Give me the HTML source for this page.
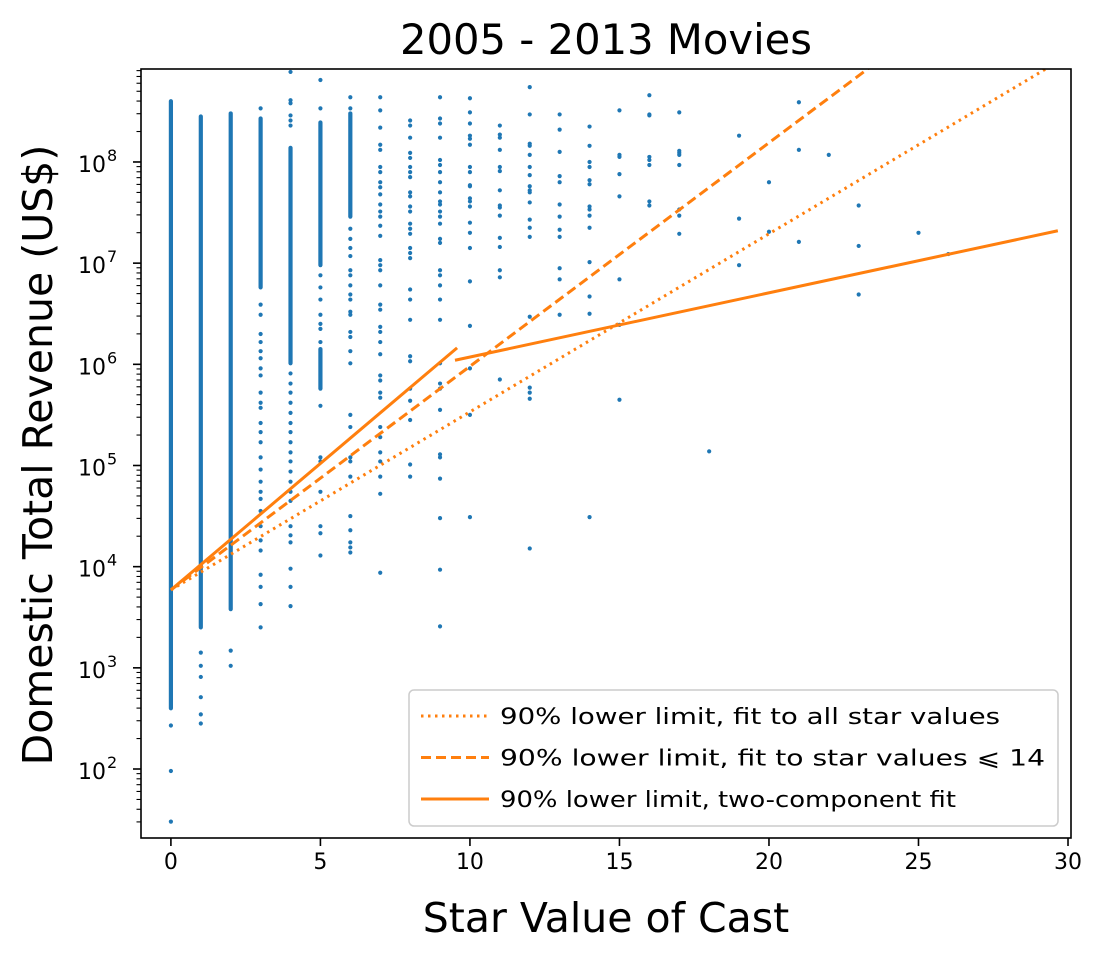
<!DOCTYPE html>
<html><head><meta charset="utf-8"><style>
html,body{margin:0;padding:0;background:#fff;}
svg{display:block;font-family:"DejaVu Sans","Liberation Sans",sans-serif;}
</style></head><body>
<svg id="chart" width="1109" height="960" viewBox="0 0 1109 960" xmlns="http://www.w3.org/2000/svg">
<rect width="1109" height="960" fill="#fff"/>
<text x="606" y="54" font-size="41.7" text-anchor="middle" fill="#000">2005 - 2013 Movies</text>
<text x="606" y="932" font-size="41" text-anchor="middle" fill="#000">Star Value of Cast</text>
<text transform="translate(52,455) rotate(-90)" font-size="41" text-anchor="middle" fill="#000">Domestic Total Revenue (US$)</text>
<g id="marks"></g>
<g id="axes"></g>
</svg>
<script>
// ---- data (log10 revenue) ----
const bandCols = [0, 1, 2, 3, 4, 5, 5, 6];
const bandLo   = [2.60, 3.40, 3.58, 6.76, 6.01, 6.98, 5.76, 7.46];
const bandHi   = [8.60, 8.45, 8.48, 8.43, 8.14, 8.39, 6.15, 8.48];
const col0 = [2.43, 1.98, 1.48];
const col1 = [3.15, 3.02, 2.91, 2.71, 2.54, 2.45];
const col2 = [3.17, 3.02];
const col3 = [8.53,6.59,6.49,6.30,6.22,6.13,6.06,5.96,5.89,5.72,5.62,5.57,5.42,5.33,5.23,5.08,4.96,4.84,4.74,4.67,4.55,4.40,4.26,4.16,3.92,3.80,3.63,3.40];
const col4 = [8.89,8.61,8.58,8.46,8.41,8.36,5.91,5.81,5.72,5.62,5.52,5.42,5.33,5.23,5.13,5.04,4.94,4.84,4.74,4.65,4.40,4.31,4.24,3.98,3.80,3.61];
const col5 = [8.81,8.53,6.88,6.76,6.64,6.49,6.40,6.35,6.22,5.59,5.08,5.04,4.74,4.40,4.33,4.11];
const col6 = [8.64,8.53,7.34,7.24,7.15,7.07,6.93,6.88,6.78,6.69,6.64,6.52,6.49,6.32,6.27,6.13,6.01,5.50,5.38,5.08,5.04,4.89,4.50,4.36,4.24,4.19,4.14];
const col7 = [8.64,8.51,8.34,8.17,8.12,7.95,7.90,7.80,7.75,7.68,7.58,7.51,7.46,7.37,7.27,7.03,6.98,6.93,6.78,6.59,6.54,6.37,6.32,6.22,6.10,5.89,5.84,5.72,5.67,5.38,5.28,5.13,5.04,4.89,4.72,3.94];
const col8 = [8.41,8.36,8.24,8.09,8.04,7.95,7.90,7.85,7.70,7.66,7.56,7.51,7.39,7.34,7.29,7.15,7.10,7.05,6.74,6.64,6.44,6.08,6.03,5.76,5.64,5.45,5.01,4.89];
const col9 = [8.64,8.43,8.38,8.24,8.02,7.97,7.90,7.80,7.70,7.61,7.58,7.51,7.46,7.39,7.24,7.20,6.93,6.88,6.78,6.64,6.44,6.01,5.81,5.76,5.55,5.11,5.08,4.87,4.48,3.97,3.41];
const col10 = [8.63,8.49,8.38,8.26,8.23,8.17,7.95,7.90,7.77,7.76,7.64,7.61,7.56,7.40,7.30,7.15,6.82,6.38,5.96,5.50,4.49];
const col11 = [8.36,8.27,8.24,8.12,7.95,7.91,7.72,7.57,7.55,7.47,7.25,7.16,6.93,6.86,5.85];
const col12 = [8.74,8.47,8.18,8.16,8.07,7.95,7.87,7.76,7.72,7.70,7.60,7.43,7.35,7.26,6.47,5.77,5.72,5.66,4.18];
const col13 = [8.47,8.32,8.10,7.86,7.80,7.58,7.46,7.33,7.26,6.95,6.84,6.49];
const col14 = [8.35,8.16,8.00,7.95,7.82,7.78,7.56,7.53,7.47,7.35,7.01,6.67,6.50,4.49];
const col15 = [8.51,8.07,8.05,7.88,7.66,6.84,6.39,5.65];
const col16 = [8.66,8.47,8.46,8.05,8.02,7.97,7.61,7.57];
const col17 = [8.49,8.11,8.09,8.07,7.97,7.53,7.47,7.29];
const col18 = [5.14];
const col19 = [8.26,7.44,6.98];
const col20 = [7.80,7.31];
const col21 = [8.59,8.12,7.21];
const col22 = [8.07];
const col23 = [7.57,7.17,6.69];
const col25 = [7.30];
const col26 = [7.09];
const starValues = [0,1,2,3,4,5,6,7,8,9,10,11,12,13,14,15,16,17,18,19,20,21,22,23,25,26];
const columns = [col0,col1,col2,col3,col4,col5,col6,col7,col8,col9,col10,col11,col12,col13,col14,col15,col16,col17,col18,col19,col20,col21,col22,col23,col25,col26];
// fit lines: log10(y) = intercept + slope*(x - x0)
const fitNames = ['fit-all-dotted','fit-le14-dashed','fit-two-comp-low','fit-two-comp-high'];
const fitX0 = [0, 0, 0, 9.5];
const fitX1 = [30, 30, 9.57, 29.66];
const fitIntercept = [3.77, 3.77, 3.77, 6.04];
const fitSlope = [0.176, 0.221, 0.25, 0.0635];
const fitDash = ['2.5,4.5', '10,5', '', ''];
const xTicks = [0,5,10,15,20,25,30];
const yTicks = [2,3,4,5,6,7,8];

// ---- axes ----
const L=141,R=1071,T=69,B=838;
const xMin=-1,xMax=30.1;
const yMinLog=Math.log10(20.8), yMaxLog=8.919;
const sx=v=>L+(v-xMin)/(xMax-xMin)*(R-L);
const sy=lv=>B-(lv-yMinLog)/(yMaxLog-yMinLog)*(B-T);
const NS='http://www.w3.org/2000/svg';
function mk(tag,attrs,parent){const e=document.createElementNS(NS,tag);for(const k in attrs)e.setAttribute(k,attrs[k]);parent.appendChild(e);return e;}
const marks=document.getElementById('marks');
const axes=document.getElementById('axes');
const clip=mk('clipPath',{id:'pc'},marks);mk('rect',{x:L,y:T,width:R-L,height:B-T},clip);
const pts=mk('g',{'clip-path':'url(#pc)'},marks);


const C='#1f77b4';
for(let i=0;i<bandCols.length;i++){
  const x=sx(bandCols[i]),y1=sy(bandHi[i]),y2=sy(bandLo[i]);
  const r=mk('rect',{x:x-2.1,y:y1-2.1,width:4.2,height:y2-y1+4.2,rx:2.1,fill:C},pts);
  
  
}
for(let c=0;c<starValues.length;c++){
  for(const v of columns[c]){
    const p=mk('circle',{cx:sx(starValues[c]),cy:sy(v),r:2.1,fill:C},pts);
    
    
  }
}
const lines=mk('g',{'clip-path':'url(#pc)'},marks);
for(let i=0;i<fitNames.length;i++){
  const a=fitX0[i],b=fitX1[i];
  const ln=mk('line',{x1:sx(a),y1:sy(fitIntercept[i]),x2:sx(b),y2:sy(fitIntercept[i]+fitSlope[i]*(b-a)),stroke:'#ff7f0e','stroke-width':3,'stroke-dasharray':fitDash[i]},lines);
  
  
}
const frame=mk('rect',{x:L,y:T,width:R-L,height:B-T,fill:'none',stroke:'#000','stroke-width':1.6},axes);


for(const t of xTicks){
  const x=sx(t);
  mk('line',{x1:x,y1:B,x2:x,y2:B+8,stroke:'#000','stroke-width':1.6},axes);
  const tx=mk('text',{x:x,y:B+31,'font-size':22,'text-anchor':'middle'},axes);
  tx.textContent=t;
  
  
}
for(const t of yTicks){
  const y=sy(t);
  mk('line',{x1:L-8,y1:y,x2:L,y2:y,stroke:'#000','stroke-width':1.6},axes);
  const tx=mk('text',{x:L-35,y:y+10,'font-size':22,'text-anchor':'end'},axes);
  tx.textContent='10';
  
  
  const sp=mk('text',{x:L-34,y:y-1,'font-size':16,'text-anchor':'start'},axes);
  sp.textContent=t;
  
  
}
for(let d=1;d<=8;d++)for(let m=2;m<=9;m++){
  const lv=d+Math.log10(m);
  if(lv<yMinLog||lv>yMaxLog)continue;
  const y=sy(lv);
  mk('line',{x1:L-4.5,y1:y,x2:L,y2:y,stroke:'#000','stroke-width':1.1},axes);
}
// legend
const lg=mk('g',{},axes);


mk('rect',{x:409,y:690,width:649,height:136,rx:5,fill:'#fff','fill-opacity':0.85,stroke:'#ccc','stroke-width':1.5},lg);
const legTexts=['90% lower limit, fit to all star values','90% lower limit, fit to star values \u2A7D 14','90% lower limit, two-component fit'];
const legWidths=[500,545,456];
const legDash=['2.5,4.5','10,5',''];
for(let i=0;i<3;i++){
  const y=716+i*41.5;
  const e=mk('g',{},lg);
  
  
  mk('line',{x1:421,y1:y,x2:489,y2:y,stroke:'#ff7f0e','stroke-width':3,'stroke-dasharray':legDash[i]},e);
  const t=mk('text',{x:500,y:y+8,'font-size':22.5,textLength:legWidths[i],lengthAdjust:'spacingAndGlyphs'},e);
  t.textContent=legTexts[i];
}
</script>
</body></html>
